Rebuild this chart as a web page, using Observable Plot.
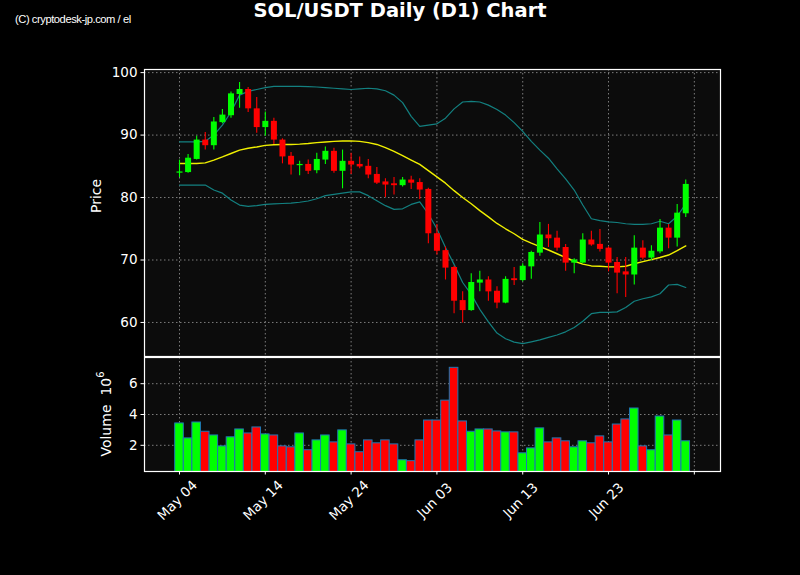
<!DOCTYPE html>
<html><head><meta charset="utf-8">
<script src="https://cdn.jsdelivr.net/npm/d3@7"></script>
<script src="https://cdn.jsdelivr.net/npm/@observablehq/plot@0.6"></script>
<style>
html,body{margin:0;padding:0;background:#000;}
#wrap{position:relative;width:800px;height:575px;background:#000;overflow:hidden;font-family:"DejaVu Sans",sans-serif;}
#wrap svg{position:absolute;left:0;}
#title{position:absolute;z-index:2;top:0;left:0;width:800px;text-align:center;color:#fff;font-weight:bold;font-size:19.5px;line-height:22px;}
#credit{position:absolute;z-index:2;left:15px;top:13px;color:#fff;font-size:11.2px;font-family:"Liberation Sans",sans-serif;letter-spacing:-0.45px;}
</style></head><body>
<div id="wrap">
 <div id="title">SOL/USDT Daily (D1) Chart</div>
 <div id="credit">(C) cryptodesk-jp.com / el</div>
</div>
<script>
const dates = ["2025-05-04","2025-05-05","2025-05-06","2025-05-07","2025-05-08","2025-05-09","2025-05-10","2025-05-11","2025-05-12","2025-05-13",
"2025-05-14","2025-05-15","2025-05-16","2025-05-17","2025-05-18","2025-05-19","2025-05-20","2025-05-21","2025-05-22","2025-05-23",
"2025-05-24","2025-05-25","2025-05-26","2025-05-27","2025-05-28","2025-05-29","2025-05-30","2025-05-31","2025-06-01","2025-06-02",
"2025-06-03","2025-06-04","2025-06-05","2025-06-06","2025-06-07","2025-06-08","2025-06-09","2025-06-10","2025-06-11","2025-06-12",
"2025-06-13","2025-06-14","2025-06-15","2025-06-16","2025-06-17","2025-06-18","2025-06-19","2025-06-20","2025-06-21","2025-06-22",
"2025-06-23","2025-06-24","2025-06-25","2025-06-26","2025-06-27","2025-06-28","2025-06-29","2025-06-30","2025-07-01","2025-07-02"];
const open = [83.9,84.0,86.1,89.2,88.3,92.0,93.1,96.5,97.3,94.2, 91.2,92.2,89.2,86.6,85.1,85.3,84.3,86.0,87.4,84.2,
 85.8,85.3,85.0,83.7,82.5,82.2,81.9,82.8,82.4,81.3, 74.2,71.5,68.8,63.5,61.9,66.3,66.8,65.0,63.1,67.0,
 66.7,68.9,71.1,74.0,73.5,72.0,69.5,69.5,73.2,72.5, 71.9,69.6,68.1,67.6,71.9,70.3,71.3,75.1,73.5,77.4];
const high = [86.0,86.9,89.8,90.4,92.8,94.1,96.9,98.4,97.6,96.0, 93.7,92.7,89.4,87.2,85.8,86.0,87.1,88.1,87.9,87.6,
 87.1,86.5,86.1,84.8,83.0,83.2,83.2,83.4,83.0,81.5, 75.7,72.1,69.0,64.9,67.8,68.2,67.3,65.7,67.3,68.8,
 69.4,71.4,76.0,75.7,74.6,72.5,70.2,74.2,74.6,74.9, 72.1,70.4,70.4,73.9,73.1,72.3,76.5,75.7,78.9,82.8];
const low = [83.2,83.9,86.0,87.6,87.6,91.8,92.7,94.3,93.6,90.3, 89.8,88.5,85.4,83.6,83.5,83.7,83.8,85.3,83.9,81.4,
 83.7,84.6,83.0,82.1,80.0,80.4,81.7,81.3,79.7,72.6, 70.8,66.8,61.4,59.9,61.8,64.9,63.4,62.2,63.0,65.9,
 66.5,66.9,70.6,72.0,71.4,68.2,67.8,69.4,72.2,71.3, 68.1,64.6,64.0,66.0,70.0,69.9,71.0,71.8,72.1,76.8];
const close = [84.1,86.3,89.2,88.3,92.1,93.2,96.6,97.3,94.2,91.2, 92.2,89.2,86.5,85.2,85.3,84.2,86.1,87.4,84.2,85.8,
 85.2,84.9,83.6,82.3,82.0,81.9,82.8,82.3,81.2,74.2, 71.4,68.7,63.4,61.9,66.4,66.8,64.9,63.1,66.9,66.7,
 69.0,71.2,74.0,73.4,71.9,69.5,70.0,73.2,72.4,71.7, 69.5,67.9,67.6,71.9,70.3,71.4,75.1,73.5,77.5,82.1];
// volume in millions
const volume = [3.42,2.45,3.48,2.88,2.64,1.93,2.52,3.03,2.77,3.16, 2.71,2.64,1.93,1.87,2.77,1.68,2.32,2.64,2.19,2.97,
 2.06,1.55,2.32,2.13,2.32,2.06,1.03,0.97,2.32,3.61, 3.61,4.90,7.03,3.55,2.88,3.03,3.03,2.90,2.84,2.84,
 1.48,1.80,3.10,2.19,2.45,2.26,1.87,2.26,2.13,2.58, 2.19,3.35,3.68,4.39,1.93,1.68,3.87,2.64,3.61,2.26];
const bbUpper = [88.9,88.9,88.9,89.0,90.0,91.6,93.7,96.4,97.0,97.3, 97.6,97.8,97.8,97.8,97.8,97.75,97.7,97.6,97.5,97.4,
 97.3,97.4,97.5,97.4,97.1,96.4,95.2,93.0,91.4,91.6, 91.8,92.7,94.2,95.3,95.4,95.3,94.8,94.1,93.2,92.0,
 90.6,89.0,87.6,86.3,84.6,83.0,81.2,78.8,76.6,76.3, 76.1,76.0,75.8,75.7,75.7,75.8,76.2,75.8,77.0,79.0];
const bbMid = [85.45,85.45,85.45,85.55,86.0,86.5,87.05,87.6,87.9,88.1, 88.35,88.45,88.5,88.5,88.55,88.65,88.8,88.9,89.0,89.05,
 89.07,89.0,88.8,88.5,88.0,87.4,86.7,86.0,85.3,84.3, 83.3,82.3,81.1,80.0,79.0,77.9,76.9,75.85,75.0,74.2,
 73.3,72.7,72.15,71.6,71.0,70.4,69.8,69.35,69.05,69.0, 68.9,68.9,69.0,69.4,69.75,70.05,70.4,70.8,71.5,72.25];
const bbLower = [82.0,82.0,82.0,82.0,81.2,80.7,79.6,78.8,78.6,78.7, 78.9,79.0,79.05,79.1,79.25,79.45,79.8,80.3,80.5,80.7,
 80.9,80.9,80.3,79.5,78.7,78.1,78.2,78.9,79.3,77.4, 75.0,72.0,69.3,66.4,64.5,62.1,60.1,58.3,57.4,56.85,
 56.6,56.9,57.2,57.6,58.0,58.5,59.2,60.2,61.4,61.6, 61.6,61.7,62.4,63.4,63.8,64.1,64.6,66.0,66.1,65.6];
const tickDates = ["2025-05-04","2025-05-14","2025-05-24","2025-06-03","2025-06-13","2025-06-23","2025-07-03"];
const tickLabels = ["May 04","May 14","May 24","Jun 03","Jun 13","Jun 23",""];
const priceTicks = [60,70,80,90,100];
const volTicks = [2,4,6];

const DAY = 864e5;
const toDate = s => new Date(s + "T00:00:00Z");
const rows = dates.map((d,i)=>({date:toDate(d), open:open[i], high:high[i], low:low[i], close:close[i],
  vol:volume[i], color: close[i] >= open[i] ? "#00ff00" : "#ff0000",
  upper:bbUpper[i], mid:bbMid[i], lower:bbLower[i]}));
const ticks = tickDates.map((d,i)=>({date:toDate(d), label:tickLabels[i]}));
const t0 = +toDate(dates[0]);
const xDomain = [new Date(t0 - 4.08*DAY), new Date(t0 + 63.05*DAY)];

const grid = {stroke:"#a0a0a0", strokeOpacity:0.85, strokeDasharray:"1.5,2.5", strokeWidth:0.9};
const style = {background:"transparent", color:"#fff", fontFamily:"DejaVu Sans", fontSize:"13.5px", overflow:"visible"};

const p1 = Plot.plot({
  width:800, height:357, marginLeft:144, marginRight:80, marginTop:69, marginBottom:1,
  style,
  x:{type:"utc", domain:xDomain, axis:null},
  y:{domain:[54.55,100.5], axis:null},
  color:{type:"identity"},
  marks:[
    Plot.frame({fill:"#0c0c0c"}),
    Plot.gridY(priceTicks, grid),
    Plot.gridX(ticks.map(t=>t.date), grid),
    Plot.axisY(priceTicks, {tickSize:3.5, tickPadding:3.5, stroke:"#fff", fill:"#fff", label:null, fontSize:13.5}),
    Plot.line(rows, {x:"date", y:"upper", stroke:"#138080", strokeWidth:1.2}),
    Plot.line(rows, {x:"date", y:"lower", stroke:"#138080", strokeWidth:1.2}),
    Plot.line(rows, {x:"date", y:"mid", stroke:"#f0f000", strokeWidth:1.4}),
    Plot.ruleX(rows, {x:"date", y1:"low", y2:"high", stroke:"color", strokeWidth:1.1}),
    Plot.ruleX(rows, {x:"date", y1:"open", y2:"close", stroke:"color", strokeWidth:6}),
    Plot.frame({stroke:"#fff", strokeWidth:1.2}),
    Plot.text(["Price"], {frameAnchor:"left", dx:-48, rotate:-90, fill:"#fff", fontSize:14})
  ]
});

const p2 = Plot.plot({
  width:800, height:218, marginLeft:144, marginRight:80, marginTop:0, marginBottom:104,
  style,
  x:{type:"utc", domain:xDomain, axis:null},
  y:{domain:[0.3,7.7], axis:null},
  color:{type:"identity"},
  marks:[
    Plot.frame({fill:"#0c0c0c"}),
    Plot.gridY(volTicks, grid),
    Plot.gridX(ticks.map(t=>t.date), grid),
    Plot.axisY(volTicks, {tickSize:3.5, tickPadding:3.5, stroke:"#fff", fill:"#fff", label:null, fontSize:13.5}),
    Plot.axisX(ticks.map(t=>t.date), {tickSize:3.5, stroke:"#fff", tickFormat:()=>"", label:null}),
    Plot.rect(rows, {x1:d=>new Date(+d.date - DAY/2), x2:d=>new Date(+d.date + DAY/2), y1:0, y2:"vol",
      fill:"color", stroke:"#1f77b4", strokeWidth:1, clip:true}),
    Plot.frame({stroke:"#fff", strokeWidth:1.2}),
    Plot.text(ticks, {x:"date", text:"label", frameAnchor:"bottom", dy:32, dx:1, rotate:-45, textAnchor:"middle", fill:"#fff", fontSize:13.5})
  ]
});

const wrap = document.getElementById("wrap");
p1.style.top = "0px";
p2.style.top = "357px";
wrap.appendChild(p1);
wrap.appendChild(p2);

// Volume label with superscript exponent
const vt = d3.select(p2).append("text")
  .attr("transform", "translate(111,57) rotate(-90)")
  .attr("text-anchor", "middle")
  .attr("fill", "#fff")
  .attr("font-family", "DejaVu Sans")
  .attr("font-size", 14);
vt.append("tspan").text("Volume  10");
vt.append("tspan").attr("dy", -7).attr("font-size", 10).text("6");
</script>
</body></html>
